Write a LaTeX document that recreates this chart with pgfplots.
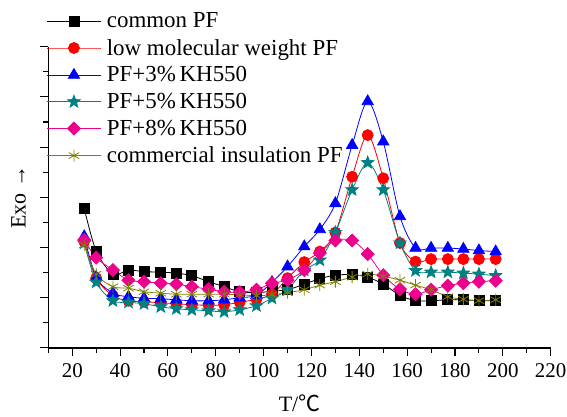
\documentclass[border=0pt]{standalone}
\usepackage{fontspec}
\setmainfont{Liberation Serif}
\newfontfamily\cjk{Noto Sans CJK SC}
\usepackage{pgfplots}
\pgfplotsset{compat=1.18}
\usetikzlibrary{plotmarks}

\definecolor{cteal}{RGB}{0,128,128}
\definecolor{colive}{RGB}{128,128,0}

% filled five-pointed star
\pgfdeclareplotmark{fstar}{%
  \pgfpathmoveto{\pgfqpointpolar{90}{\pgfplotmarksize}}%
  \pgfpathlineto{\pgfqpointpolar{126}{0.42\pgfplotmarksize}}%
  \pgfpathlineto{\pgfqpointpolar{162}{\pgfplotmarksize}}%
  \pgfpathlineto{\pgfqpointpolar{198}{0.42\pgfplotmarksize}}%
  \pgfpathlineto{\pgfqpointpolar{234}{\pgfplotmarksize}}%
  \pgfpathlineto{\pgfqpointpolar{270}{0.42\pgfplotmarksize}}%
  \pgfpathlineto{\pgfqpointpolar{306}{\pgfplotmarksize}}%
  \pgfpathlineto{\pgfqpointpolar{342}{0.42\pgfplotmarksize}}%
  \pgfpathlineto{\pgfqpointpolar{18}{\pgfplotmarksize}}%
  \pgfpathlineto{\pgfqpointpolar{54}{0.42\pgfplotmarksize}}%
  \pgfpathclose\pgfusepathqfillstroke}

\begin{document}
\begin{tikzpicture}[x=1bp,y=1bp]
\begin{axis}[
    scale only axis,
    width=502bp, height=301bp,
    xmin=10, xmax=220, ymin=0, ymax=6,
    axis x line*=bottom, axis y line*=left,
    axis line style={line width=1.3bp},
    xtick={20,40,...,220}, minor xtick={10,30,...,210},
    ytick={0,1,...,6}, minor ytick={0.5,1.5,...,5.5},
    yticklabels={},
    tick align=outside,
    major tick length=8bp, minor tick length=5bp,
    every tick/.style={black, line width=1.1bp},
    tick label style={font=\fontsize{21}{23}\selectfont},
    xticklabel style={yshift=-4bp},
    /pgf/number format/assume math mode=true,
    xlabel={T/{\cjk ℃}},
    xlabel style={yshift=-10bp},
    ylabel={Exo →},
    ylabel style={yshift=4bp},
    label style={font=\fontsize{22}{24}\selectfont},
    legend cell align=left,
    legend image code/.code={\draw[mark repeat=2,mark phase=2,#1] plot coordinates {(0bp,0bp) (26.5bp,0bp) (53bp,0bp)};},
    legend style={draw=none, fill=none, at={(axis description cs:-0.003,1.120)}, anchor=north west,
        font=\fontsize{23}{25}\selectfont, row sep=6bp, column sep=4bp, inner sep=0pt},
    every axis plot/.append style={line width=0.8bp, smooth},
]
\addplot[black, mark=square*, mark size=5bp] coordinates {
(25,2.78)(30,1.93)(37,1.47)(43.5,1.55)(50,1.52)(57,1.51)(63.5,1.49)(70,1.44)(77,1.32)(83.5,1.22)(90,1.12)(97,1.10)(103.5,1.13)(110,1.16)(117,1.27)(123.5,1.38)(130,1.45)(137,1.46)(143.5,1.41)(150,1.27)(157,1.05)(163.5,0.94)(170,0.94)(177,0.96)(183.5,0.96)(190,0.94)(197,0.94)
};
\addlegendentry{common PF}
\addplot[red, mark=*, mark size=5.5bp] coordinates {
(25,2.12)(30,1.39)(37,1.04)(43.5,0.94)(50,0.92)(57,0.90)(63.5,0.88)(70,0.86)(77,0.85)(83.5,0.86)(90,0.91)(97,0.97)(103.5,1.07)(110,1.39)(117,1.71)(123.5,1.92)(130,2.30)(137,3.41)(143.5,4.24)(150,3.38)(157,2.09)(163.5,1.72)(170,1.77)(177,1.77)(183.5,1.77)(190,1.77)(197,1.77)
};
\addlegendentry{low molecular weight PF}
\addplot[blue, mark=triangle*, mark size=6.5bp] coordinates {
(25,2.22)(30,1.41)(37,1.09)(43.5,1.02)(50,0.99)(57,0.98)(63.5,0.96)(70,0.94)(77,0.94)(83.5,0.96)(90,1.00)(97,1.05)(103.5,1.31)(110,1.62)(117,2.02)(123.5,2.36)(130,2.88)(137,4.04)(143.5,4.91)(150,4.11)(157,2.62)(163.5,1.99)(170,1.99)(177,1.99)(183.5,1.97)(190,1.94)(197,1.92)
};
\addlegendentry{PF+3\%\,KH550}
\addplot[cteal, mark=fstar, mark size=6.5bp] coordinates {
(25,2.09)(30,1.31)(37,0.94)(43.5,0.91)(50,0.88)(57,0.82)(63.5,0.78)(70,0.76)(77,0.74)(83.5,0.72)(90,0.76)(97,0.84)(103.5,0.99)(110,1.16)(117,1.55)(123.5,1.75)(130,2.30)(137,3.15)(143.5,3.69)(150,3.15)(157,2.09)(163.5,1.54)(170,1.51)(177,1.51)(183.5,1.49)(190,1.47)(197,1.44)
};
\addlegendentry{PF+5\%\,KH550}
\addplot[magenta, mark=square*, mark size=4.6bp, mark options={rotate=45}] coordinates {
(25,2.15)(30,1.80)(37,1.55)(43.5,1.35)(50,1.32)(57,1.29)(63.5,1.27)(70,1.22)(77,1.17)(83.5,1.12)(90,1.11)(97,1.16)(103.5,1.29)(110,1.35)(117,1.55)(123.5,1.89)(130,2.14)(137,2.14)(143.5,1.87)(150,1.45)(157,1.17)(163.5,1.07)(170,1.16)(177,1.24)(183.5,1.29)(190,1.32)(197,1.34)
};
\addlegendentry{PF+8\%\,KH550}
\addplot[colive, mark=asterisk, mark size=6bp] coordinates {
(25,2.05)(30,1.47)(37,1.22)(43.5,1.19)(50,1.12)(57,1.09)(63.5,1.07)(70,1.07)(77,1.07)(83.5,1.07)(90,1.06)(97,1.04)(103.5,1.06)(110,1.10)(117,1.16)(123.5,1.25)(130,1.32)(137,1.41)(143.5,1.47)(150,1.43)(157,1.35)(163.5,1.25)(170,1.16)(177,1.02)(183.5,0.97)(190,0.94)(197,0.96)
};
\addlegendentry{commercial insulation PF}
\end{axis}
\pgfresetboundingbox
\path ([xshift=-48.3bp,yshift=-69bp]current axis.south west) rectangle ([xshift=16.3bp,yshift=46.7bp]current axis.north east);
\end{tikzpicture}
\end{document}
